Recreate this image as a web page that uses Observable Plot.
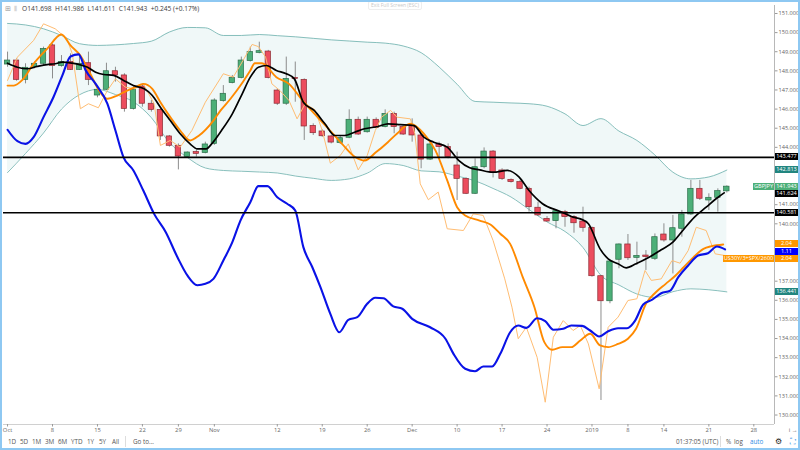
<!DOCTYPE html>
<html><head><meta charset="utf-8">
<script src="https://cdn.jsdelivr.net/npm/d3@7"></script>
<script src="https://cdn.jsdelivr.net/npm/@observablehq/plot@0.6"></script>
<style>
body{margin:0;background:#fff;font-family:"Open Sans","DejaVu Sans",sans-serif;}
#wrap{position:relative;width:800px;height:450px;overflow:hidden;background:#fff;}
#frame{position:absolute;left:0;top:0;width:796px;height:446px;border:2px solid #8ec8f2;pointer-events:none;}
.t{position:absolute;white-space:nowrap;line-height:1;}
.lb{position:absolute;height:7px;line-height:7px;font-size:5.6px;color:#fff;text-align:center;white-space:nowrap;}
#toolbar span{position:absolute;top:439px;font-size:6.3px;color:#555;line-height:1;white-space:nowrap;}
</style></head>
<body><div id="wrap"></div>
<script>
// ---- candles (GBPJPY daily, trading-day index 0 = Oct 1 2018) ----
const opens  = [148.33,148.54,147.53,148.19,148.37,149.33,148.25,148.46,148.05,148.40,146.71,147.01,147.98,147.76,146.01,147.18,146.28,145.96,144.57,144.08,143.49,143.75,143.70,144.18,146.42,147.36,147.63,148.51,148.94,149.01,146.97,146.28,147.63,147.53,145.12,144.83,144.57,144.22,144.50,145.44,144.79,145.44,145.06,145.75,145.06,145.14,144.62,143.36,144.15,144.01,143.05,142.35,141.57,142.96,143.78,142.79,142.30,142.18,141.83,140.84,140.26,140.14,140.61,140.35,140.12,139.79,137.26,135.95,138.12,138.92,138.22,138.34,138.17,139.44,139.13,139.74,140.49,141.83,141.22,141.36,141.698];
const highs  = [148.98,148.63,148.37,148.46,149.24,149.41,148.80,148.89,148.89,148.98,147.15,148.40,148.19,147.85,147.23,147.32,146.45,146.07,144.62,144.18,143.76,143.92,144.27,146.54,147.23,147.76,148.72,149.24,149.50,149.07,147.06,148.72,148.46,147.58,145.23,144.92,144.62,144.62,145.96,145.58,145.58,145.54,145.96,145.84,145.14,145.49,144.71,144.27,144.27,144.18,143.75,142.40,143.40,143.97,143.83,142.88,142.35,142.27,141.92,141.13,140.38,140.70,140.70,140.43,140.87,139.83,137.30,138.08,138.95,139.44,139.04,138.60,139.47,140.00,140.44,140.70,142.27,142.27,141.57,141.83,141.986];
const lows   = [148.19,147.46,147.32,148.11,148.28,147.58,148.19,148.02,148.02,147.23,146.59,146.97,147.41,145.84,145.95,146.10,145.84,144.36,144.01,142.82,143.45,143.49,143.66,144.10,146.36,147.32,147.58,148.46,148.89,147.58,146.19,146.19,146.36,144.36,144.62,144.53,144.18,144.15,144.45,144.62,144.74,144.97,145.02,144.71,144.62,144.27,142.88,143.31,143.40,143.40,141.22,141.53,141.53,142.88,142.40,142.27,142.13,141.78,140.61,140.38,140.09,139.74,139.82,139.51,139.56,137.21,130.76,135.82,137.65,138.08,137.82,137.56,138.08,139.04,137.38,139.30,140.44,141.22,140.70,140.61,141.611];
const closes = [148.54,147.53,148.16,148.37,149.15,148.25,148.46,148.05,148.37,147.53,147.01,147.98,147.76,146.01,147.01,146.28,145.96,144.57,144.08,143.52,143.73,143.66,144.15,146.45,146.80,147.63,148.54,148.98,149.03,147.63,146.28,147.58,147.58,145.09,144.74,144.58,144.25,144.48,145.44,144.67,145.44,145.02,145.75,145.06,144.67,144.62,143.36,144.15,144.01,143.49,142.35,141.57,142.96,143.78,142.65,142.35,142.18,141.83,140.87,140.44,140.12,140.66,140.35,140.03,139.79,137.26,135.95,138.03,138.92,138.20,138.32,138.26,139.30,139.13,139.77,140.49,141.83,141.31,141.36,141.71,141.943];

// ---- Bollinger bands, sampled every 2 trading days ----
const bandIdx = [0,2,4,6,8,10,12,14,16,18,20,22,24,26,28,30,32,34,36,38,40,42,44,46,48,50,52,54,56,58,60,62,64,66,68,70,72,74,76,78,80];
const bbUpper = [150.48,150.40,150.20,149.85,149.42,149.33,149.36,149.43,149.55,150.03,150.27,150.25,149.85,149.85,149.90,149.84,149.78,149.70,149.62,149.56,149.50,149.45,149.30,148.95,148.20,147.30,146.40,146.36,146.32,146.28,146.15,145.75,145.14,145.50,144.85,144.36,143.60,142.70,142.35,142.45,142.81];
const bbLower = [142.68,143.68,144.75,146.00,146.75,147.03,146.76,146.38,145.55,144.25,143.47,142.92,142.79,142.75,142.71,142.66,142.50,142.38,142.27,142.35,142.65,143.15,143.05,142.77,142.72,142.50,142.25,141.85,141.40,140.75,140.10,139.60,138.76,137.30,136.80,136.33,136.15,136.45,136.60,136.55,136.44];

// ---- overlay lines [tradingDayIndex, value on price axis] ----
const emaLine = [[0,148.40],[1.1,148.19],[2.2,148.11],[3.3,148.23],[4.4,148.33],[5.3,148.37],[6.1,148.46],[7.2,148.40],[8.1,148.31],[8.9,148.19],[9.8,147.93],[10.7,147.81],[11.8,147.76],[12.9,147.50],[14,147.23],[15.2,147.06],[16.1,146.71],[17,146.10],[18.1,145.40],[19.2,144.71],[20.3,144.18],[21.1,143.92],[22.1,143.92],[22.7,144.18],[23.8,144.88],[25,145.75],[26.1,146.80],[27,147.67],[27.9,148.19],[28.8,148.28],[29.9,148.02],[31,147.85],[31.9,147.58],[32.9,146.36],[34.1,145.93],[35.3,145.23],[36.4,144.62],[37.5,144.62],[38.6,144.79],[39.7,144.97],[41.2,145.09],[42.3,145.23],[43.7,145.19],[45.2,145.14],[46.3,144.53],[47.4,144.27],[48.9,144.01],[50.2,143.31],[51.4,142.93],[52.5,142.82],[54,142.70],[55.6,142.79],[56.9,142.44],[58,141.74],[59.5,141.05],[61.4,140.66],[62.9,140.35],[63.7,140.26],[64.6,140.00],[65.9,138.69],[66.8,138.17],[67.9,137.91],[68.8,137.70],[69.9,137.91],[71.4,138.26],[72.7,138.64],[74,139.04],[75.1,139.65],[76.4,140.35],[77.7,140.87],[78.8,141.31],[79.7,141.62]];
const orangeMA = [[0,147.23],[0.7,147.23],[1.6,147.50],[2.9,148.37],[4.4,149.15],[6,149.90],[7,149.33],[8.1,148.80],[9.2,147.85],[10.3,146.88],[11.1,146.54],[12.2,146.71],[13.3,146.97],[14.2,147.15],[15.1,147.32],[16.1,147.06],[17,146.36],[18.1,145.58],[19.2,144.88],[20.3,144.36],[21.3,144.62],[22.9,145.40],[23.7,145.93],[24.8,146.54],[25.9,147.23],[27,148.02],[27.5,148.40],[28.3,148.40],[29.9,147.67],[31.3,147.32],[32.8,146.45],[34.3,145.67],[35.7,144.97],[37.2,144.18],[38.7,143.48],[39.7,143.31],[41,143.75],[42.3,144.27],[43.3,144.71],[44.8,145.23],[46.3,144.71],[47.6,143.83],[48.9,142.27],[50,140.87],[50.9,140.44],[52.5,140.17],[53.7,139.96],[54.8,139.48],[55.9,138.95],[57.3,137.21],[58.6,135.64],[59.7,133.81],[60.6,133.41],[61.7,133.55],[62.7,133.55],[63.7,133.90],[64.8,134.25],[65.9,133.64],[66.8,133.55],[67.9,133.72],[69,133.99],[69.9,134.51],[71,135.82],[72.1,136.42],[73.2,136.86],[74.3,137.30],[75.2,137.73],[76.3,138.26],[77.4,138.69],[78.3,138.83],[79.6,138.92]];
const orangeRaw = [[0,147.50],[1.1,148.72],[2.9,149.59],[4,150.46],[5.3,150.20],[6.6,149.68],[7.2,148.89],[8.1,146.02],[9,146.28],[10.1,146.07],[11.1,146.97],[12,147.58],[13.1,147.15],[14.1,147.06],[15.1,147.32],[16.3,146.28],[17,144.10],[18.1,144.36],[19.2,144.01],[20.5,144.88],[22,146.36],[24,147.85],[25.1,147.67],[26.3,148.63],[27.2,149.38],[27.9,149.27],[28.7,148.72],[29.4,147.32],[30.3,146.97],[31.3,146.45],[32.2,145.49],[33.1,146.28],[34.2,145.96],[35,144.88],[35.9,143.17],[37,143.57],[37.9,144.18],[39,142.82],[40,143.57],[40.9,144.88],[41.6,145.58],[42.6,145.93],[43.3,145.58],[44.8,145.49],[45.3,144.71],[45.9,142.09],[46.8,141.26],[47.9,141.66],[48.9,139.74],[50.7,139.65],[51.8,140.52],[52.9,140.44],[54,139.13],[55.3,137.12],[56.1,135.64],[56.8,133.99],[57.7,134.59],[58.9,133.02],[59.8,130.67],[60.7,134.07],[61.8,134.94],[62.9,134.42],[63.7,134.68],[64.6,133.72],[65.8,131.37],[66.8,134.59],[67.9,135.12],[69,135.99],[70,136.08],[70.9,137.56],[71.6,137.04],[72.7,137.12],[73.9,138.08],[74.8,137.94],[75.7,138.60],[76.6,139.82],[77.7,139.65],[78.7,138.43],[79.8,138.34]];
const blueLine = [[0,144.92],[1.1,144.32],[2,144.18],[2.9,144.53],[4,145.58],[5.1,146.62],[6.1,147.76],[7,148.75],[7.9,148.86],[8.7,148.02],[9.8,147.32],[11.1,146.28],[12,144.88],[12.9,143.48],[14,142.79],[15.1,141.74],[16.3,140.52],[17.6,139.56],[18.9,138.25],[20,137.30],[21.1,136.79],[22,136.86],[22.9,137.12],[24,138.08],[25,139.04],[25.9,140.17],[27,141.13],[27.9,141.97],[28.9,141.97],[30,141.39],[31.1,141.05],[32,140.70],[32.9,138.78],[33.9,137.73],[34.8,136.69],[35.9,135.29],[36.9,134.33],[37.9,134.98],[38.9,135.12],[40,135.82],[40.9,136.13],[41.8,136.11],[42.9,135.68],[43.9,135.56],[45,135.03],[47,134.59],[48.7,133.99],[49.6,133.20],[50.9,132.42],[52,132.29],[52.9,132.54],[53.9,132.54],[54.8,133.20],[55.9,134.33],[56.8,134.68],[57.7,134.56],[58.9,135.06],[59.8,134.91],[60.7,134.46],[61.8,134.51],[62.7,134.68],[63.9,134.66],[64.8,134.42],[65.8,134.11],[66.8,134.38],[67.9,134.54],[68.9,134.54],[69.8,134.94],[70.7,135.78],[71.7,136.03],[72.7,136.37],[73.7,136.51],[74.6,137.21],[75.7,137.82],[76.8,138.34],[77.9,138.46],[78.9,138.81],[79.8,138.66]];

// ---- horizontal levels ----
const levels = [143.477, 140.581];

// ---- right-axis price labels ----
const tagPrices = [143.477, 142.813, 141.943, 141.624, 140.581, 138.92, 138.55, 138.19, 136.441];
const tagTexts  = ["143.477","142.813","141.943","141.624","140.581","2.04","1.11","2.04","136.441"];
const tagColors = ["#000","#21857f","#4caf78","#000","#000","#ff9800","#0000ff","#ff9800","#21857f"];
const tagNames  = ["","","GBPJPY","","","","","US30Y/3+SPX/2600",""];

// ---- axis ticks (price ticks hidden behind tags are dropped, as on the reference) ----
const yTicks = d3.range(130, 152).filter(t => tagPrices.every(p => Math.abs(p - t) > 0.22));
const xTickIdx = [0,5,10,15,19,23,30,35,40,45,50,55,60,65,69,73,78,83];
const xTickLabels = ["Oct","8","15","22","29","Nov","12","19","26","Dec","10","17","24","2019","8","14","21","28"];

const header = "O141.698  H141.986  L141.611  C141.943  +0.245 (+0.17%)";

const candles = opens.map((o, i) => ({i, o, h: highs[i], l: lows[i], c: closes[i], up: closes[i] >= o}));

const chart = Plot.plot({
  width: 800, height: 434,
  marginLeft: 3, marginRight: 26, marginTop: 5, marginBottom: 10,
  x: {domain: [-0.45, 85.3]},
  y: {domain: [129.504, 151.418]},
  style: {fontFamily: "'Open Sans', sans-serif", background: "transparent"},
  marks: [
    Plot.areaY(bandIdx, {x: d => d, y1: (d, k) => bbLower[k], y2: (d, k) => bbUpper[k], fill: "#eaf5f5", fillOpacity: 0.7, curve: "monotone-x"}),
    Plot.lineY(bandIdx, {x: d => d, y: (d, k) => bbUpper[k], stroke: "#7ab8b4", strokeWidth: 0.9, curve: "monotone-x"}),
    Plot.lineY(bandIdx, {x: d => d, y: (d, k) => bbLower[k], stroke: "#7ab8b4", strokeWidth: 0.9, curve: "monotone-x"}),
    Plot.ruleX(candles, {x: "i", y1: "l", y2: "h", stroke: "#808080", strokeWidth: 0.9}),
    Plot.rect(candles, {x1: d => d.i - 0.3, x2: d => d.i + 0.3, y1: "o", y2: "c",
      fill: d => d.up ? "#4caf78" : "#ec4d5e", stroke: d => d.up ? "#2b6d49" : "#8c2b33", strokeWidth: 0.7}),
    Plot.line(orangeRaw, {x: d => d[0], y: d => d[1], stroke: "#ffbd73", strokeWidth: 1}),
    Plot.line(orangeMA, {x: d => d[0], y: d => d[1], stroke: "#ff8a00", strokeWidth: 1.9, curve: "monotone-x"}),
    Plot.line(blueLine, {x: d => d[0], y: d => d[1], stroke: "#0a12e6", strokeWidth: 2.1, curve: "monotone-x"}),
    Plot.line(emaLine, {x: d => d[0], y: d => d[1], stroke: "#000", strokeWidth: 1.7, curve: "monotone-x"}),
    Plot.ruleY(levels, {stroke: "#000", strokeWidth: 1.6}),
    Plot.ruleX([85.3], {stroke: "#b8b8b8", strokeWidth: 1}),
    Plot.ruleY([129.504], {stroke: "#d0d0d0", strokeWidth: 1}),
    Plot.axisY({anchor: "right", ticks: yTicks, tickFormat: d => d.toFixed(3), tickSize: 2.5, tickPadding: 1.5, fontSize: 5.6, fill: "#666", stroke: "#999"}),
    Plot.axisX({anchor: "bottom", ticks: xTickIdx, tickFormat: (d, k) => xTickLabels[k], tickSize: 2.5, tickPadding: 1, fontSize: 5.8, fill: "#666", stroke: "#999"})
  ]
});

const wrap = document.getElementById("wrap");
chart.style.position = "absolute"; chart.style.left = "0"; chart.style.top = "0";
wrap.appendChild(chart);

const ys = chart.scale("y");
function add(html, css, cls) { const d = document.createElement("div"); d.className = cls || "t"; d.innerHTML = html; Object.assign(d.style, css); wrap.appendChild(d); return d; }

// header
add("⊞", {left: "5px", top: "5px", fontSize: "7px", color: "#999"});
add("⦀", {left: "14px", top: "5px", fontSize: "7px", color: "#bbb"});
add(header.replace(/ /g, "&nbsp;"), {left: "22px", top: "6px", fontSize: "6.6px", color: "#3a3a3a"});
add("Exit Full Screen (ESC)", {left: "368px", top: "1px", fontSize: "5px", color: "#c8c8c8", border: "1px solid #eee", padding: "1px 2px", borderRadius: "2px"});

// price tags, pushed apart so they never overlap (as the reference does)
const order = tagPrices.map((p, k) => k).sort((a, b) => ys.apply(tagPrices[a]) - ys.apply(tagPrices[b]));
let lastBottom = -Infinity;
order.forEach(k => {
  let y = ys.apply(tagPrices[k]) - 3.5;
  if (y < lastBottom + 0.3) y = lastBottom + 0.3;
  lastBottom = y + 7;
  add(tagTexts[k], {left: "775px", top: y + "px", width: "23px", background: tagColors[k]}, "lb");
  if (tagNames[k]) {
    const w = tagNames[k].length > 8 ? 51 : 21;
    add(tagNames[k], {left: (774 - w) + "px", top: y + "px", width: w + "px", background: tagColors[k]}, "lb");
  }
});

// toolbar
const tb = document.createElement("div"); tb.id = "toolbar"; wrap.appendChild(tb);
const items = [["1D",8],["5D",20],["1M",32],["3M",45],["6M",58],["YTD",71],["1Y",87],["5Y",99],["All",112],["Go to...",133],["01:37:05 (UTC)",676],["%",726],["log",734],["auto",750],["⚙",775],["⛶",790]];
items.forEach(([s, x]) => { const e = document.createElement("span"); e.textContent = s; e.style.left = x + "px"; if (s === "auto" || s === "⛶") e.style.color = "#2f8de4"; if (s === "⚙") { e.style.color = "#222"; e.style.top = "437px"; e.style.fontSize = "8px"; } if (s === "⛶") { e.style.fontSize = "8px"; e.style.top = "437px"; } tb.appendChild(e); });
[[125],[720]].forEach(([x]) => add("", {left: x + "px", top: "436px", width: "1px", height: "11px", background: "#ddd"}));

const fr = document.createElement("div"); fr.id = "frame"; wrap.appendChild(fr);
</script>
</body></html>
